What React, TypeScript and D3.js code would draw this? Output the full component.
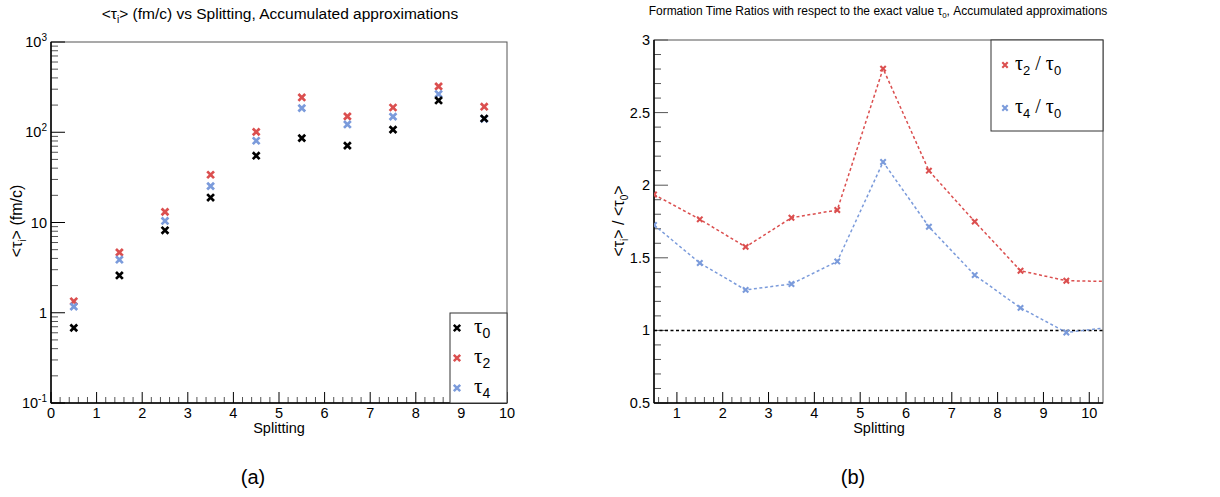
import * as d3 from 'd3';

// data
const splitting = [0.5, 1.5, 2.5, 3.5, 4.5, 5.5, 6.5, 7.5, 8.5, 9.5];
const tau0 = [0.68, 2.59, 8.2, 18.9, 55, 86, 71, 107, 225, 142];
const tau2 = [1.34, 4.66, 13.1, 33.8, 101, 243, 150, 188, 322, 192];
const tau4 = [1.17, 3.87, 10.4, 25.3, 80.5, 185, 122, 149, 265, 141];

const ratioX = [0.5, 1.5, 2.5, 3.5, 4.5, 5.5, 6.5, 7.5, 8.5, 9.5, 10.5];
const ratio2 = [1.936, 1.765, 1.575, 1.776, 1.829, 2.803, 2.1, 1.749, 1.411, 1.342, 1.337];
const ratio4 = [1.726, 1.464, 1.279, 1.32, 1.475, 2.16, 1.714, 1.381, 1.155, 0.986, 1.023];

const leftXTicks = [0, 1, 2, 3, 4, 5, 6, 7, 8, 9, 10];
const leftYDecades = [0.1, 1, 10, 100, 1000];
const rightXTicks = [1, 2, 3, 4, 5, 6, 7, 8, 9, 10];
const rightYTicks = [0.5, 1, 1.5, 2, 2.5, 3];

const RED = '#db4f4f';
const BLUE = '#7b9bdb';
const FONT = '"Liberation Sans", Arial, Helvetica, sans-serif';
const SERIF = '"Liberation Serif", "Times New Roman", serif';

function Cross({ x, y, s, color, w }) {
  return (
    <path
      d={`M${x - s},${y - s}L${x + s},${y + s}M${x - s},${y + s}L${x + s},${y - s}`}
      stroke={color}
      strokeWidth={w}
      fill="none"
    />
  );
}

function LeftPanel() {
  const L = 51, R = 507, T = 42, B = 403;
  const x = d3.scaleLinear().domain([0, 10]).range([L, R]);
  const y = d3.scaleLog().domain([0.1, 1000]).range([B, T]);

  const minorX = d3.range(0, 10.001, 0.2).filter(v => Math.abs(v - Math.round(v)) > 0.01);
  const minorY = [];
  leftYDecades.slice(0, -1).forEach(d => {
    for (let k = 2; k <= 9; k++) minorY.push(d * k);
  });

  const series = [
    { vals: tau2, color: RED },
    { vals: tau4, color: BLUE },
    { vals: tau0, color: '#000' },
  ];
  const sup = ['-1', '', '', '2', '3'];

  return (
    <g fontFamily={FONT}>
      <text x={280} y={19} textAnchor="middle" fontSize={15.5}>
        {'<τ'}<tspan fontSize={10} dy={4}>i</tspan><tspan dy={-4}>{'> (fm/c) vs Splitting, Accumulated approximations'}</tspan>
      </text>
      <rect x={L} y={T} width={R - L} height={B - T} fill="none" stroke="#555" strokeWidth={1} />
      {minorX.map(v => (
        <line key={'mx' + v} x1={x(v)} x2={x(v)} y1={B} y2={B - 6} stroke="#555" />
      ))}
      {leftXTicks.map(v => (
        <g key={'x' + v}>
          <line x1={x(v)} x2={x(v)} y1={B} y2={B - 11} stroke="#000" />
          <text x={x(v)} y={418} textAnchor="middle" fontSize={14.5}>{v}</text>
        </g>
      ))}
      {minorY.map(v => (
        <line key={'my' + v} x1={L} x2={L + 7} y1={y(v)} y2={y(v)} stroke="#555" />
      ))}
      {leftYDecades.map((v, i) => (
        <g key={'y' + v}>
          <line x1={L} x2={L + 14} y1={y(v)} y2={y(v)} stroke="#000" />
          {v === 1 || v === 10 ? (
            <text x={47} y={y(v) + 5} textAnchor="end" fontSize={14.5}>{v}</text>
          ) : (
            <text x={47} y={y(v) + 5} textAnchor="end" fontSize={14.5}>
              10<tspan fontSize={10} dy={-6}>{sup[i]}</tspan>
            </text>
          )}
        </g>
      ))}
      <line x1={L} x2={R} y1={B} y2={B} stroke="#000" strokeWidth={1.5} />
      <line x1={L} x2={L} y1={T} y2={B} stroke="#000" strokeWidth={1.5} />
      {series.map((s, si) =>
        s.vals.map((v, i) => (
          <Cross key={si + '-' + i} x={x(splitting[i])} y={y(v)} s={3.4} color={s.color} w={2.7} />
        ))
      )}
      <g transform="translate(22,221) rotate(-90)">
        <text textAnchor="middle" fontSize={16}>
          {'<τ'}<tspan fontSize={10} dy={4}>i</tspan><tspan dy={-4}>{'> (fm/c)'}</tspan>
        </text>
      </g>
      <text x={279} y={433} textAnchor="middle" fontSize={14.5}>Splitting</text>
      <rect x={450} y={313} width={R - 450} height={B - 313} fill="#fff" stroke="#333" strokeWidth={1} />
      {[
        { c: '#000', sub: '0', yy: 328 },
        { c: RED, sub: '2', yy: 358 },
        { c: BLUE, sub: '4', yy: 388 },
      ].map(e => (
        <g key={e.sub}>
          <Cross x={457} y={e.yy} s={3.2} color={e.c} w={2.5} />
          <text x={474} y={e.yy + 5} fontFamily={SERIF} fontSize={21}>
            τ<tspan fontFamily={FONT} fontSize={14} dy={5}>{e.sub}</tspan>
          </text>
        </g>
      ))}
      <text x={253} y={484} textAnchor="middle" fontSize={20}>(a)</text>
    </g>
  );
}

function RightPanel() {
  const L = 654, R = 1103, T = 40, B = 403;
  const x = d3.scaleLinear().domain([0.5, 10.3]).range([L, R]);
  const y = d3.scaleLinear().domain([0.5, 3]).range([B, T]);

  const minorX = d3.range(0.6, 10.3, 0.2).filter(v => Math.abs(v - Math.round(v)) > 0.01);
  const minorY = d3.range(0.6, 3, 0.1).filter(v => Math.abs(v * 2 - Math.round(v * 2)) > 0.01);

  const line = d3.line().x(d => x(d[0])).y(d => y(d[1]));
  const pts2 = ratioX.map((v, i) => [v, ratio2[i]]);
  const pts4 = ratioX.map((v, i) => [v, ratio4[i]]);

  return (
    <g fontFamily={FONT}>
      <defs>
        <clipPath id="rclip">
          <rect x={L} y={T} width={R - L} height={B - T} />
        </clipPath>
      </defs>
      <text x={878} y={15} textAnchor="middle" fontSize={12}>
        Formation Time Ratios with respect to the exact value τ<tspan fontSize={8} dy={3}>0</tspan>
        <tspan dy={-3}>, Accumulated approximations</tspan>
      </text>
      <rect x={L} y={T} width={R - L} height={B - T} fill="none" stroke="#555" strokeWidth={1} />
      {minorX.map(v => (
        <line key={'mx' + v} x1={x(v)} x2={x(v)} y1={B} y2={B - 6} stroke="#555" />
      ))}
      {rightXTicks.map(v => (
        <g key={'x' + v}>
          <line x1={x(v)} x2={x(v)} y1={B} y2={B - 11} stroke="#000" />
          <text x={x(v)} y={418} textAnchor="middle" fontSize={14.5}>{v}</text>
        </g>
      ))}
      {minorY.map(v => (
        <line key={'my' + v} x1={L} x2={L + 7} y1={y(v)} y2={y(v)} stroke="#555" />
      ))}
      {rightYTicks.map(v => (
        <g key={'y' + v}>
          <line x1={L} x2={L + 14} y1={y(v)} y2={y(v)} stroke="#555" />
          <text x={650} y={y(v) + 5} textAnchor="end" fontSize={14.5}>{v}</text>
        </g>
      ))}
      <line x1={L} x2={R} y1={B} y2={B} stroke="#000" strokeWidth={1.5} />
      <line x1={L} x2={L} y1={T} y2={B} stroke="#000" strokeWidth={1.5} />
      <line x1={L} x2={R} y1={y(1)} y2={y(1)} stroke="#000" strokeWidth={1.5} strokeDasharray="3,2.5" />
      <g clipPath="url(#rclip)">
        <path d={line(pts2)} fill="none" stroke={RED} strokeWidth={1.5} strokeDasharray="3,2.5" />
        <path d={line(pts4)} fill="none" stroke={BLUE} strokeWidth={1.5} strokeDasharray="3,2.5" />
        {pts2.map((p, i) => (
          <Cross key={'r' + i} x={x(p[0])} y={y(p[1])} s={2.7} color={RED} w={2.1} />
        ))}
        {pts4.map((p, i) => (
          <Cross key={'b' + i} x={x(p[0])} y={y(p[1])} s={2.7} color={BLUE} w={2.1} />
        ))}
      </g>
      <g transform="translate(624,221) rotate(-90)">
        <text textAnchor="middle" fontSize={16}>
          {'<τ'}<tspan fontSize={10} dy={4}>i</tspan><tspan dy={-4}>{'> / <τ'}</tspan>
          <tspan fontSize={10} dy={4}>0</tspan><tspan dy={-4}>{'>'}</tspan>
        </text>
      </g>
      <text x={879} y={433} textAnchor="middle" fontSize={14.5}>Splitting</text>
      <rect x={991} y={T} width={R - 991} height={131 - T} fill="#fff" stroke="#333" strokeWidth={1} />
      {[
        { c: RED, sub: '2', yy: 65 },
        { c: BLUE, sub: '4', yy: 108 },
      ].map(e => (
        <g key={e.sub}>
          <Cross x={1005} y={e.yy} s={2.7} color={e.c} w={2.1} />
          <text x={1015} y={e.yy + 5} fontFamily={SERIF} fontSize={20}>
            τ<tspan fontFamily={FONT} fontSize={13} dy={5}>{e.sub}</tspan>
            <tspan dy={-5}>{' / τ'}</tspan>
            <tspan fontFamily={FONT} fontSize={13} dy={5}>0</tspan>
          </text>
        </g>
      ))}
      <text x={853} y={484} textAnchor="middle" fontSize={20}>(b)</text>
    </g>
  );
}

export default function App() {
  return (
    <svg
      width={1220}
      height={497}
      viewBox="0 0 1220 497"
      style={{ position: 'absolute', left: 0, top: 0, background: '#fff' }}
    >
      <rect width={1220} height={497} fill="#fff" />
      <LeftPanel />
      <RightPanel />
    </svg>
  );
}
